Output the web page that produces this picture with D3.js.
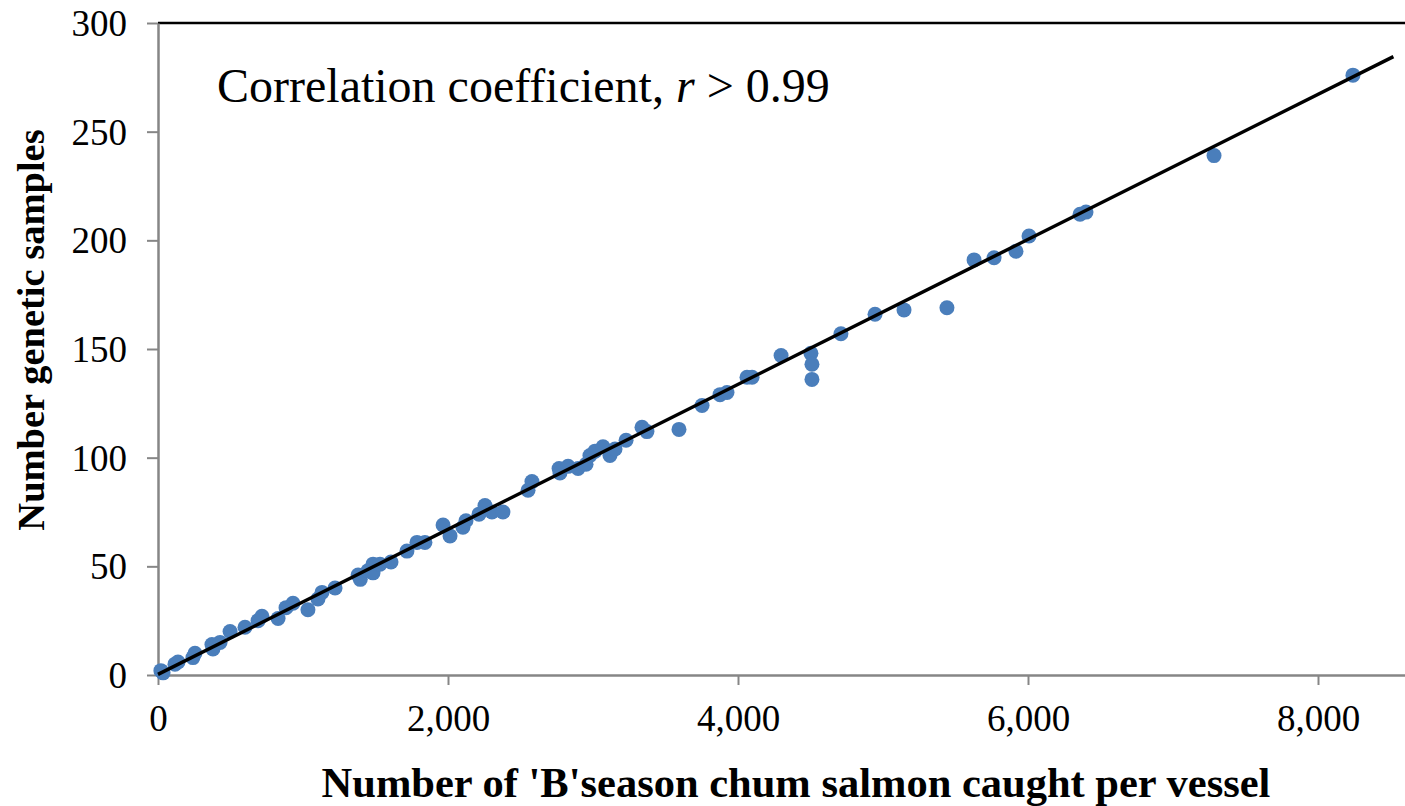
<!DOCTYPE html>
<html>
<head>
<meta charset="utf-8">
<script src="https://cdn.jsdelivr.net/npm/d3@7"></script>
<style>
  body { margin: 0; background: #fff; }
  svg { display: block; font-family: "Liberation Serif", "Times New Roman", serif; }
  .tick text { fill: #000; }
</style>
</head>
<body>
<svg id="chart"></svg>
<script>
// datos (pescado capturado vs muestras geneticas)

var catchVals = [20, 35, 117, 138, 241, 255, 372, 379, 428, 497, 600, 690, 717, 828,
                 883, 931, 1034, 1103, 1131, 1221, 1380, 1395, 1448, 1483, 1483, 1531,
                 1607, 1717, 1786, 1841, 1966, 2014, 2103, 2124, 2214, 2255, 2303, 2379,
                 2552, 2579, 2766, 2772, 2828, 2897, 2952, 2979, 3014, 3069, 3117, 3152,
                 3228, 3338, 3372, 3593, 3752, 3876, 3924, 4062, 4097, 4297, 4503, 4510,
                 4510, 4710, 4945, 5145, 5441, 5628, 5766, 5917, 6007, 6359, 6400, 7283,
                 8241];

var sampleVals = [2, 1, 5, 6, 8, 10, 14, 12, 15, 20, 22, 25, 27, 26,
                  31, 33, 30, 35, 38, 40, 46, 44, 48, 51, 47, 51,
                  52, 57, 61, 61, 69, 64, 68, 71, 74, 78, 75, 75,
                  85, 89, 95, 93, 96, 95, 97, 101, 103, 105, 101, 104,
                  108, 114, 112, 113, 124, 129, 130, 137, 137, 147, 148, 143,
                  136, 157, 166, 168, 169, 191, 192, 195, 202, 212, 213, 239,
                  276];

// linea de tendencia (extremos)
var trendX = [0, 8520];
var trendY = [0.3, 284.5];

var xTicks = [0, 2000, 4000, 6000, 8000];
var yTicks = [0, 50, 100, 150, 200, 250, 300];

var w = 1405;
var h = 806;

var margin = {left: 158, top: 23, right: 0, bottom: 131};
var serif = "'Liberation Serif', 'Times New Roman', serif";

var svg = d3.select("#chart")
    .attr("width", w)
    .attr("height", h);

var xScale = d3.scaleLinear()
    .domain([0, 8600])
    .range([margin.left, w - margin.right]);

var yScale = d3.scaleLinear()
    .domain([0, 300])
    .range([h - margin.bottom, margin.top]);

var formatNum = d3.format(",");

// borde superior del area de la grafica
svg.append("line")
    .attr("x1", xScale(0))
    .attr("x2", w)
    .attr("y1", yScale(300))
    .attr("y2", yScale(300))
    .attr("stroke", "#000")
    .attr("stroke-width", 2.5);

// eje de y
var yAxis = d3.axisLeft(yScale)
    .tickValues(yTicks)
    .tickSizeInner(11)
    .tickSizeOuter(0)
    .tickPadding(20);

var gy = svg.append("g")
    .attr("transform", "translate(" + margin.left + ",0)")
    .call(yAxis)
    .attr("font-family", serif);
gy.select(".domain").attr("stroke", "#868686").attr("stroke-width", 2.5);
gy.selectAll(".tick line").attr("stroke", "#868686").attr("stroke-width", 2);
gy.selectAll(".tick text").style("font-size", "37px").attr("dy", "0.34em");

// eje de x
var xAxis = d3.axisBottom(xScale)
    .tickValues(xTicks)
    .tickFormat(formatNum)
    .tickSizeInner(10)
    .tickSizeOuter(0)
    .tickPadding(20);

var gx = svg.append("g")
    .attr("transform", "translate(0," + yScale(0) + ")")
    .call(xAxis)
    .attr("font-family", serif);
gx.select(".domain").attr("stroke", "#868686").attr("stroke-width", 2.5);
gx.selectAll(".tick line").attr("stroke", "#868686").attr("stroke-width", 2);
gx.selectAll(".tick text").style("font-size", "37px");

// puntos
var pts = catchVals.map(function(d, i) { return {x: d, y: sampleVals[i]}; });

svg.append("g")
    .selectAll("circle")
    .data(pts)
    .enter()
    .append("circle")
    .attr("cx", function(d) { return xScale(d.x); })
    .attr("cy", function(d) { return yScale(d.y); })
    .attr("r", 7.5)
    .attr("fill", "#4a7ebb");

// linea de tendencia
var line = d3.line()
    .x(function(d) { return xScale(d[0]); })
    .y(function(d) { return yScale(d[1]); });

svg.append("path")
    .datum(trendX.map(function(d, i) { return [d, trendY[i]]; }))
    .attr("d", line)
    .attr("fill", "none")
    .attr("stroke", "#000")
    .attr("stroke-width", 3.5);

// anotacion
var note = svg.append("text")
    .attr("x", 217)
    .attr("y", 102)
    .style("font-size", "48px");
note.append("tspan").text("Correlation coefficient, ");
note.append("tspan").style("font-style", "italic").text("r");
note.append("tspan").text(" > 0.99");

// titulos de los ejes
svg.append("text")
    .attr("x", 796)
    .attr("y", 797)
    .style("text-anchor", "middle")
    .style("font-size", "42.5px")
    .style("font-weight", "bold")
    .text("Number of 'B'season chum salmon caught per vessel");

svg.append("text")
    .attr("transform", "translate(44,330) rotate(-90)")
    .style("text-anchor", "middle")
    .style("font-size", "38.5px")
    .style("font-weight", "bold")
    .text("Number genetic samples");
</script>
</body>
</html>
